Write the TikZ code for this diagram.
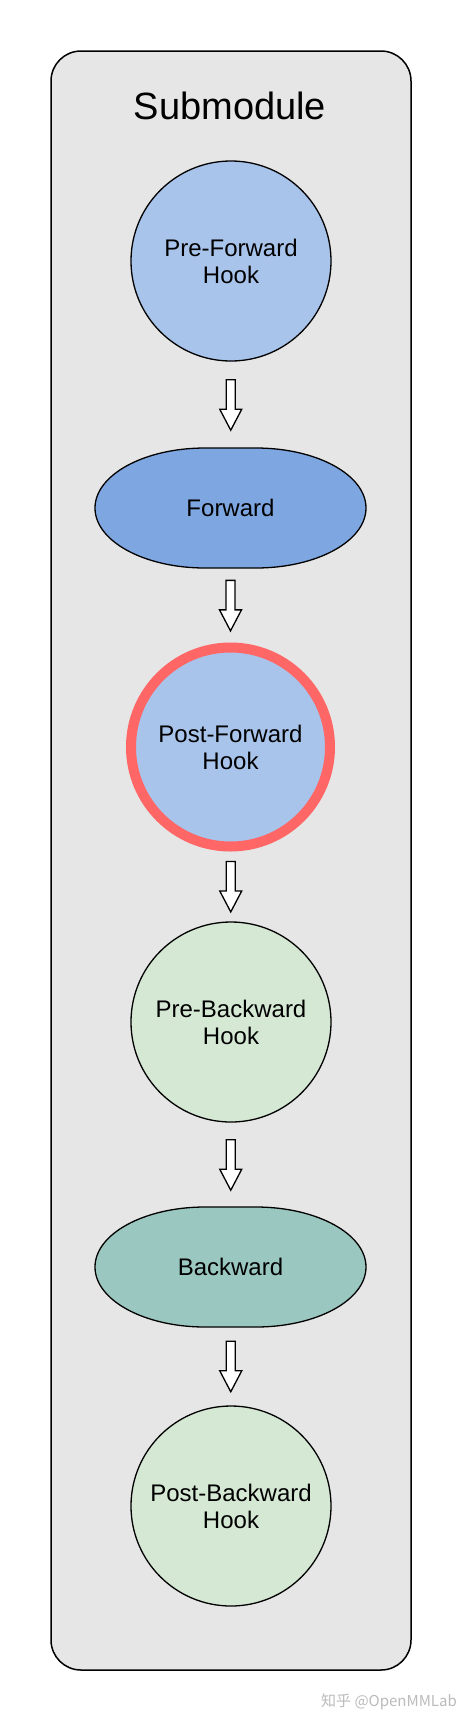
\documentclass[tikz,border=0pt]{standalone}
\usepackage{fontspec}
\setmainfont{Liberation Sans}
\newfontfamily\cjk{Noto Sans CJK SC}
\usetikzlibrary{calc,shapes.geometric}
\definecolor{boxbg}{HTML}{E6E6E6}
\definecolor{lblue}{HTML}{A9C4EB}
\definecolor{mblue}{HTML}{7EA6E0}
\definecolor{lgreen}{HTML}{D5E8D4}
\definecolor{teal}{HTML}{9AC7BF}
\definecolor{hred}{HTML}{FF6666}
\definecolor{wm}{HTML}{BBBBBB}
\tikzset{
  hook/.style={circle, draw=black, line width=1.3pt, minimum size=200pt, inner sep=0pt, align=center, font=\fontsize{24}{27}\selectfont},
  oval/.style={ellipse, minimum width=271pt, minimum height=120pt, inner sep=0pt, font=\fontsize{24}{27}\selectfont},
  ovalshape/.style={draw=black, line width=1.3pt},
  blockarrow/.style={draw=black, fill=white, line width=1.3pt, line join=miter},
}
\newcommand\ovalat[3]{% name, fill, text
  \coordinate (c#1) at #3;
  \draw[ovalshape, fill=#2, shift={(c#1)}] (-25.5,-60) -- (25.5,-60)
     arc[start angle=-90, end angle=90, x radius=110, y radius=60]
     -- (-25.5,60)
     arc[start angle=90, end angle=270, x radius=110, y radius=60] -- cycle;}
\newcommand\barrow[2]{%
  \path ($(#1.south)!0.5!(#2.north)$) coordinate (m#1);
  \draw[blockarrow, shift={(m#1)}] (-4.5,-25) -- (4.5,-25) -- (4.5,4.5) -- (11,4.5) -- (0,25.5) -- (-11,4.5) -- (-4.5,4.5) -- cycle;}
\begin{document}
\begin{tikzpicture}[x=1pt,y=-1pt]
\useasboundingbox (0,0) rectangle (462,1722);
\fill[white] (0,0) rectangle (462,1722);
\draw[fill=boxbg, line width=1.5pt, rounded corners=30pt] (51,51) rectangle (411,1670);
\node[font=\fontsize{38}{40}\selectfont] (title) at (230,106) {Submodule};
\node[hook, fill=lblue] (pfh) at (231,261) {Pre-Forward\\Hook};
\ovalat{fwd}{mblue}{(230.5,508)}
\node[oval] (fwd) at (cfwd) {Forward};
\node[hook, fill=lblue, draw=hred, line width=10pt, minimum size=199pt] (pofh) at (230.5,747) {Post-Forward\\Hook};
\node[hook, fill=lgreen] (pbh) at (231,1022) {Pre-Backward\\Hook};
\ovalat{bwd}{teal}{(230.5,1267)}
\node[oval] (bwd) at (cbwd) {Backward};
\node[hook, fill=lgreen] (pobh) at (231,1506) {Post-Backward\\Hook};
\barrow{pfh}{fwd}
\barrow{fwd}{pofh}
\barrow{pofh}{pbh}
\barrow{pbh}{bwd}
\barrow{bwd}{pobh}
\node[text=wm, font=\cjk\fontsize{15}{16}\selectfont, inner sep=0pt] (wmark) at (389,1702) {知乎 @OpenMMLab};
\end{tikzpicture}
\end{document}
